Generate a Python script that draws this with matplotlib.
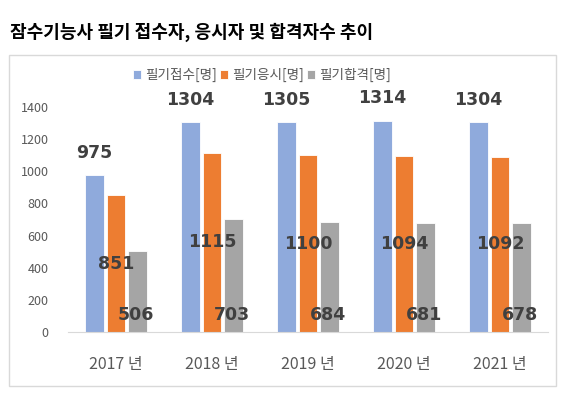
import matplotlib.pyplot as plt
import numpy as np
from matplotlib.patches import Rectangle

plt.rcParams['font.family'] = ['Noto Sans CJK KR', 'DejaVu Sans']

years = ["2017 년", "2018 년", "2019 년", "2020 년", "2021 년"]
applied = [975, 1304, 1305, 1314, 1304]
took = [851, 1115, 1100, 1094, 1092]
passed = [506, 703, 684, 681, 678]
series_names = ["필기접수[명]", "필기응시[명]", "필기합격[명]"]
colors = ["#8FAADC", "#ED7D31", "#A5A5A5"]

fig = plt.figure(figsize=(5.67, 3.95), dpi=100)

# outer chart frame
fig.patches.append(Rectangle((9 / 567, 1 - 386 / 395), 547 / 567, 331 / 395,
                             transform=fig.transFigure, fill=False,
                             edgecolor="#D9D9D9", linewidth=1))
fig.text(10 / 567, 1 - 32 / 395, "잠수기능사 필기 접수자, 응시자 및 합격자수 추이",
         fontsize=13, fontweight="bold", va="center", ha="left", color="black")

ax = fig.add_axes([68 / 567, 1 - 332 / 395, 480 / 567, 225 / 395])
x = np.arange(len(years))
w = 0.19
off = 0.225
ax.bar(x - off, applied, w, color=colors[0], edgecolor="white", linewidth=0.6, label=series_names[0])
ax.bar(x, took, w, color=colors[1], edgecolor="white", linewidth=0.6, label=series_names[1])
ax.bar(x + off, passed, w, color=colors[2], edgecolor="white", linewidth=0.6, label=series_names[2])

lab = dict(fontsize=12.5, fontweight="bold", color="#404040", ha="center", va="center",
           family="DejaVu Sans", clip_on=False)
for i in range(len(years)):
    ax.text(x[i] - off, applied[i] + 140, str(applied[i]), **lab)
    ax.text(x[i], took[i] / 2, str(took[i]), **lab)
    ax.text(x[i] + off - 0.02, 105, str(passed[i]), **lab)

ax.set_xlim(-0.5, len(years) - 0.5)
ax.set_ylim(0, 1400)
ax.set_yticks(range(0, 1401, 200))
ax.set_xticks(x)
ax.set_xticklabels(years, fontsize=11.5, color="#595959")
ax.tick_params(axis="y", labelsize=9, colors="#595959", length=0, pad=14)
ax.tick_params(axis="x", length=0, pad=17)
for s in ["top", "right", "left"]:
    ax.spines[s].set_visible(False)
ax.spines["bottom"].set_color("#D9D9D9")

fig.legend(loc="center", bbox_to_anchor=(262 / 567, 1 - 75 / 395), ncol=3, frameon=False,
           fontsize=9.8, handlelength=0.6, handleheight=0.6, handletextpad=0.3,
           columnspacing=0.2, labelcolor="#595959")

fig.savefig("out.png", dpi=100)
